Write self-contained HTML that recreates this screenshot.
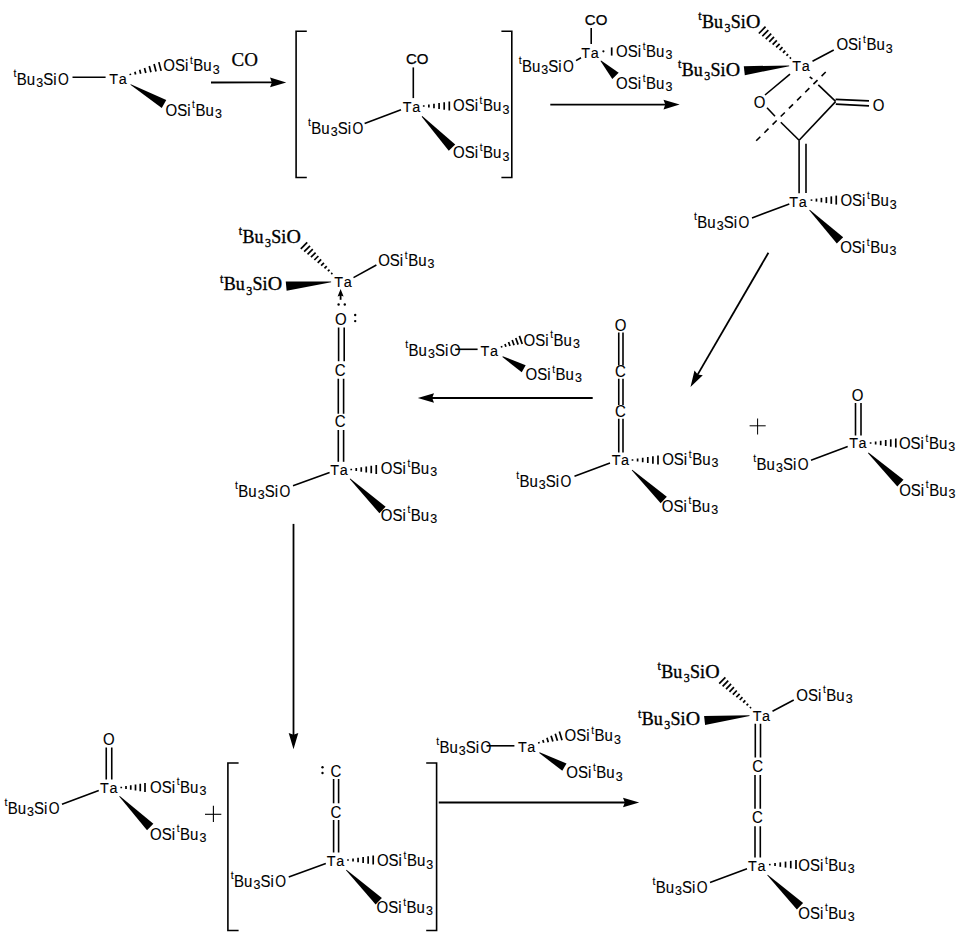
<!DOCTYPE html>
<html><head><meta charset="utf-8"><style>html,body{margin:0;padding:0;background:#fff;}svg{display:block}</style></head>
<body><svg width="960" height="935" viewBox="0 0 960 935">
<rect width="960" height="935" fill="#fff"/>
<g transform="translate(57.97,84.70) scale(1.0,1.04)"><text font-family="'Liberation Sans'" font-size="15" stroke="#000" stroke-width="0.1"><tspan x="-44.5" y="-7.7" font-size="10.5">t</tspan><tspan x="-41.2" y="0">Bu</tspan><tspan x="-21.8" y="2.0" font-size="12.5">3</tspan><tspan x="-14.8" y="0">Si</tspan><tspan x="0" y="0" textLength="10.8" lengthAdjust="spacingAndGlyphs">O</tspan></text></g>
<line x1="72.50" y1="77.25" x2="105.60" y2="77.25" stroke="#000" stroke-width="1.6"/>
<g transform="translate(109.26,84.15) scale(0.96,1.03)"><text font-family="'Liberation Sans'" font-size="15" stroke="#000" stroke-width="0.1"><tspan x="0" y="0">T</tspan><tspan x="9.8" y="0">a</tspan></text></g>
<line x1="130.49" y1="75.12" x2="130.11" y2="73.68" stroke="#000" stroke-width="1.7"/>
<line x1="135.60" y1="74.41" x2="134.90" y2="71.75" stroke="#000" stroke-width="1.7"/>
<line x1="140.71" y1="73.70" x2="139.69" y2="69.83" stroke="#000" stroke-width="1.7"/>
<line x1="145.82" y1="72.99" x2="144.48" y2="67.91" stroke="#000" stroke-width="1.7"/>
<line x1="150.94" y1="72.27" x2="149.26" y2="65.99" stroke="#000" stroke-width="1.7"/>
<line x1="156.05" y1="71.56" x2="154.05" y2="64.07" stroke="#000" stroke-width="1.7"/>
<line x1="161.16" y1="70.85" x2="158.84" y2="62.15" stroke="#000" stroke-width="1.7"/>
<g transform="translate(163.29,71.00) scale(1.0,1.04)"><text font-family="'Liberation Sans'" font-size="15" stroke="#000" stroke-width="0.1"><tspan x="0" y="0">OSi</tspan><tspan x="26.6" y="-7.0" font-size="10">t</tspan><tspan x="30.0" y="0">Bu</tspan><tspan x="49.4" y="2.4" font-size="12.5">3</tspan></text></g>
<polygon points="130.40,84.85 161.73,107.89 166.27,100.11 130.80,84.15" fill="#000"/>
<g transform="translate(165.49,115.60) scale(1.0,1.04)"><text font-family="'Liberation Sans'" font-size="15" stroke="#000" stroke-width="0.1"><tspan x="0" y="0">OSi</tspan><tspan x="26.6" y="-7.0" font-size="10">t</tspan><tspan x="30.0" y="0">Bu</tspan><tspan x="49.4" y="2.4" font-size="12.5">3</tspan></text></g>
<text x="231.60" y="66.00" font-family='"Liberation Serif"' font-size="19" stroke="#000" stroke-width="0.25">CO</text>
<line x1="211.00" y1="82.50" x2="272.35" y2="82.42" stroke="#000" stroke-width="1.8"/>
<polygon points="286.25,82.40 270.06,87.22 271.85,82.42 270.04,77.62" fill="#000"/>
<polyline points="306.80,31.20 296.10,31.20 296.10,177.50 306.80,177.50" fill="none" stroke="#000" stroke-width="1.6"/>
<polyline points="501.40,31.20 511.80,31.20 511.80,177.50 501.40,177.50" fill="none" stroke="#000" stroke-width="1.6"/>
<text x="406.04" y="63.75" font-family='"Liberation Sans"' font-size="15" stroke="#000" stroke-width="0.25">CO</text>
<line x1="413.30" y1="67.40" x2="413.30" y2="98.10" stroke="#000" stroke-width="1.6"/>
<g transform="translate(402.86,112.10) scale(0.96,1.03)"><text font-family="'Liberation Sans'" font-size="15" stroke="#000" stroke-width="0.1"><tspan x="0" y="0">T</tspan><tspan x="9.8" y="0">a</tspan></text></g>
<line x1="423.75" y1="106.75" x2="423.75" y2="105.25" stroke="#000" stroke-width="1.7"/>
<line x1="428.86" y1="107.50" x2="428.86" y2="104.50" stroke="#000" stroke-width="1.7"/>
<line x1="433.97" y1="108.25" x2="433.97" y2="103.75" stroke="#000" stroke-width="1.7"/>
<line x1="439.08" y1="109.00" x2="439.08" y2="103.00" stroke="#000" stroke-width="1.7"/>
<line x1="444.19" y1="109.75" x2="444.19" y2="102.25" stroke="#000" stroke-width="1.7"/>
<line x1="449.30" y1="110.50" x2="449.30" y2="101.50" stroke="#000" stroke-width="1.7"/>
<g transform="translate(452.99,111.30) scale(1.0,1.04)"><text font-family="'Liberation Sans'" font-size="15" stroke="#000" stroke-width="0.1"><tspan x="0" y="0">OSi</tspan><tspan x="26.6" y="-7.0" font-size="10">t</tspan><tspan x="30.0" y="0">Bu</tspan><tspan x="49.4" y="2.4" font-size="12.5">3</tspan></text></g>
<g transform="translate(352.47,133.60) scale(1.0,1.04)"><text font-family="'Liberation Sans'" font-size="15" stroke="#000" stroke-width="0.1"><tspan x="-44.5" y="-7.7" font-size="10.5">t</tspan><tspan x="-41.2" y="0">Bu</tspan><tspan x="-21.8" y="2.0" font-size="12.5">3</tspan><tspan x="-14.8" y="0">Si</tspan><tspan x="0" y="0" textLength="10.8" lengthAdjust="spacingAndGlyphs">O</tspan></text></g>
<line x1="364.60" y1="123.60" x2="401.00" y2="109.80" stroke="#000" stroke-width="1.6"/>
<polygon points="421.71,116.68 448.76,150.72 455.24,144.48 422.29,116.12" fill="#000"/>
<g transform="translate(453.09,158.00) scale(1.0,1.04)"><text font-family="'Liberation Sans'" font-size="15" stroke="#000" stroke-width="0.1"><tspan x="0" y="0">OSi</tspan><tspan x="26.6" y="-7.0" font-size="10">t</tspan><tspan x="30.0" y="0">Bu</tspan><tspan x="49.4" y="2.4" font-size="12.5">3</tspan></text></g>
<text x="584.84" y="25.30" font-family='"Liberation Sans"' font-size="15" stroke="#000" stroke-width="0.25">CO</text>
<line x1="591.20" y1="28.00" x2="591.20" y2="44.00" stroke="#000" stroke-width="1.6"/>
<g transform="translate(581.26,57.60) scale(0.96,1.03)"><text font-family="'Liberation Sans'" font-size="15" stroke="#000" stroke-width="0.1"><tspan x="0" y="0">T</tspan><tspan x="9.8" y="0">a</tspan></text></g>
<circle cx="603.4" cy="51.3" r="1.1"/>
<line x1="611.70" y1="47.40" x2="611.70" y2="55.60" stroke="#000" stroke-width="1.7"/>
<g transform="translate(616.09,56.90) scale(1.0,1.04)"><text font-family="'Liberation Sans'" font-size="15" stroke="#000" stroke-width="0.1"><tspan x="0" y="0">OSi</tspan><tspan x="26.6" y="-7.0" font-size="10">t</tspan><tspan x="30.0" y="0">Bu</tspan><tspan x="49.4" y="2.4" font-size="12.5">3</tspan></text></g>
<g transform="translate(563.12,71.65) scale(1.0,1.04)"><text font-family="'Liberation Sans'" font-size="15" stroke="#000" stroke-width="0.1"><tspan x="-44.5" y="-7.7" font-size="10.5">t</tspan><tspan x="-41.2" y="0">Bu</tspan><tspan x="-21.8" y="2.0" font-size="12.5">3</tspan><tspan x="-14.8" y="0">Si</tspan><tspan x="0" y="0" textLength="10.8" lengthAdjust="spacingAndGlyphs">O</tspan></text></g>
<line x1="576.00" y1="60.60" x2="581.00" y2="57.70" stroke="#000" stroke-width="1.6"/>
<polygon points="600.51,61.08 612.32,78.91 618.68,72.69 601.09,60.52" fill="#000"/>
<g transform="translate(616.09,88.85) scale(1.0,1.04)"><text font-family="'Liberation Sans'" font-size="15" stroke="#000" stroke-width="0.1"><tspan x="0" y="0">OSi</tspan><tspan x="26.6" y="-7.0" font-size="10">t</tspan><tspan x="30.0" y="0">Bu</tspan><tspan x="49.4" y="2.4" font-size="12.5">3</tspan></text></g>
<line x1="550.30" y1="104.60" x2="665.80" y2="104.60" stroke="#000" stroke-width="1.8"/>
<polygon points="679.70,104.60 663.50,109.40 665.30,104.60 663.50,99.80" fill="#000"/>
<g transform="translate(746.54,27.50) scale(1.0,1.0)"><text font-family="'Liberation Serif'" font-size="18" stroke="#000" stroke-width="0.35"><tspan x="-48.2" y="-7.4" font-size="12">t</tspan><tspan x="-44.6" y="0">Bu</tspan><tspan x="-22.1" y="4.4" font-size="12">3</tspan><tspan x="-15.7" y="0">Si</tspan><tspan x="-0.6" y="0" textLength="14.4" lengthAdjust="spacingAndGlyphs">O</tspan></text></g>
<line x1="790.93" y1="57.47" x2="789.87" y2="58.53" stroke="#000" stroke-width="1.7"/>
<line x1="788.11" y1="54.05" x2="786.43" y2="55.75" stroke="#000" stroke-width="1.7"/>
<line x1="785.29" y1="50.63" x2="782.98" y2="52.97" stroke="#000" stroke-width="1.7"/>
<line x1="782.47" y1="47.22" x2="779.53" y2="50.18" stroke="#000" stroke-width="1.7"/>
<line x1="779.64" y1="43.80" x2="776.09" y2="47.40" stroke="#000" stroke-width="1.7"/>
<line x1="776.82" y1="40.39" x2="772.64" y2="44.61" stroke="#000" stroke-width="1.7"/>
<line x1="774.00" y1="36.97" x2="769.20" y2="41.83" stroke="#000" stroke-width="1.7"/>
<line x1="771.18" y1="33.56" x2="765.75" y2="39.04" stroke="#000" stroke-width="1.7"/>
<line x1="768.36" y1="30.14" x2="762.31" y2="36.26" stroke="#000" stroke-width="1.7"/>
<line x1="765.54" y1="26.72" x2="758.86" y2="33.48" stroke="#000" stroke-width="1.7"/>
<g transform="translate(836.39,50.00) scale(1.0,1.04)"><text font-family="'Liberation Sans'" font-size="15" stroke="#000" stroke-width="0.1"><tspan x="0" y="0">OSi</tspan><tspan x="26.6" y="-7.0" font-size="10">t</tspan><tspan x="30.0" y="0">Bu</tspan><tspan x="49.4" y="2.4" font-size="12.5">3</tspan></text></g>
<line x1="812.50" y1="61.25" x2="833.75" y2="50.00" stroke="#000" stroke-width="1.6"/>
<g transform="translate(792.36,70.90) scale(0.96,1.03)"><text font-family="'Liberation Sans'" font-size="15" stroke="#000" stroke-width="0.1"><tspan x="0" y="0">T</tspan><tspan x="9.8" y="0">a</tspan></text></g>
<g transform="translate(726.24,75.60) scale(1.0,1.0)"><text font-family="'Liberation Serif'" font-size="18" stroke="#000" stroke-width="0.35"><tspan x="-48.2" y="-7.4" font-size="12">t</tspan><tspan x="-44.6" y="0">Bu</tspan><tspan x="-22.1" y="4.4" font-size="12">3</tspan><tspan x="-15.7" y="0">Si</tspan><tspan x="-0.6" y="0" textLength="14.4" lengthAdjust="spacingAndGlyphs">O</tspan></text></g>
<polygon points="789.16,65.40 743.80,66.23 744.80,75.27 789.24,66.20" fill="#000"/>
<g transform="translate(759.50,102.10) scale(1,1.08)"><text font-family="'Liberation Sans'" font-size="15" stroke="#000" stroke-width="0.12" text-anchor="middle" y="5.17">O</text></g>
<line x1="790.00" y1="74.20" x2="765.00" y2="95.00" stroke="#000" stroke-width="1.6"/>
<line x1="767.00" y1="107.80" x2="775.00" y2="116.20" stroke="#000" stroke-width="1.6"/>
<line x1="780.80" y1="122.30" x2="799.10" y2="140.30" stroke="#000" stroke-width="1.6"/>
<line x1="799.10" y1="140.30" x2="835.60" y2="101.60" stroke="#000" stroke-width="1.6"/>
<line x1="809.70" y1="76.80" x2="812.40" y2="78.90" stroke="#000" stroke-width="1.6"/>
<line x1="818.30" y1="84.80" x2="835.60" y2="101.40" stroke="#000" stroke-width="1.6"/>
<line x1="835.60" y1="99.40" x2="869.00" y2="100.90" stroke="#000" stroke-width="1.6"/>
<line x1="835.80" y1="104.10" x2="869.00" y2="105.90" stroke="#000" stroke-width="1.6"/>
<g transform="translate(878.50,105.80) scale(1,1.08)"><text font-family="'Liberation Sans'" font-size="15" stroke="#000" stroke-width="0.12" text-anchor="middle" y="5.17">O</text></g>
<line x1="799.10" y1="140.30" x2="799.10" y2="193.20" stroke="#000" stroke-width="1.6"/>
<line x1="806.00" y1="143.80" x2="806.00" y2="193.00" stroke="#000" stroke-width="1.6"/>
<line x1="825.7" y1="72" x2="756.1" y2="140.9" stroke="#000" stroke-width="1.6" stroke-dasharray="5.8,5.7"/>
<g transform="translate(789.26,206.80) scale(0.96,1.03)"><text font-family="'Liberation Sans'" font-size="15" stroke="#000" stroke-width="0.1"><tspan x="0" y="0">T</tspan><tspan x="9.8" y="0">a</tspan></text></g>
<line x1="811.50" y1="200.85" x2="811.50" y2="199.35" stroke="#000" stroke-width="1.7"/>
<line x1="816.45" y1="201.60" x2="816.45" y2="198.60" stroke="#000" stroke-width="1.7"/>
<line x1="821.40" y1="202.35" x2="821.40" y2="197.85" stroke="#000" stroke-width="1.7"/>
<line x1="826.35" y1="203.10" x2="826.35" y2="197.10" stroke="#000" stroke-width="1.7"/>
<line x1="831.30" y1="203.85" x2="831.30" y2="196.35" stroke="#000" stroke-width="1.7"/>
<line x1="836.25" y1="204.60" x2="836.25" y2="195.60" stroke="#000" stroke-width="1.7"/>
<g transform="translate(840.39,206.30) scale(1.0,1.04)"><text font-family="'Liberation Sans'" font-size="15" stroke="#000" stroke-width="0.1"><tspan x="0" y="0">OSi</tspan><tspan x="26.6" y="-7.0" font-size="10">t</tspan><tspan x="30.0" y="0">Bu</tspan><tspan x="49.4" y="2.4" font-size="12.5">3</tspan></text></g>
<g transform="translate(738.57,228.20) scale(1.0,1.04)"><text font-family="'Liberation Sans'" font-size="15" stroke="#000" stroke-width="0.1"><tspan x="-44.5" y="-7.7" font-size="10.5">t</tspan><tspan x="-41.2" y="0">Bu</tspan><tspan x="-21.8" y="2.0" font-size="12.5">3</tspan><tspan x="-14.8" y="0">Si</tspan><tspan x="0" y="0" textLength="10.8" lengthAdjust="spacingAndGlyphs">O</tspan></text></g>
<line x1="752.00" y1="217.90" x2="789.30" y2="203.90" stroke="#000" stroke-width="1.6"/>
<polygon points="809.22,210.28 836.82,243.59 843.18,237.21 809.78,209.72" fill="#000"/>
<g transform="translate(840.19,252.80) scale(1.0,1.04)"><text font-family="'Liberation Sans'" font-size="15" stroke="#000" stroke-width="0.1"><tspan x="0" y="0">OSi</tspan><tspan x="26.6" y="-7.0" font-size="10">t</tspan><tspan x="30.0" y="0">Bu</tspan><tspan x="49.4" y="2.4" font-size="12.5">3</tspan></text></g>
<line x1="768.40" y1="252.80" x2="697.48" y2="374.88" stroke="#000" stroke-width="1.8"/>
<polygon points="690.50,386.90 694.49,370.48 697.73,374.45 702.79,375.30" fill="#000"/>
<g transform="translate(620.62,325.50) scale(1,1.08)"><text font-family="'Liberation Sans'" font-size="15" stroke="#000" stroke-width="0.12" text-anchor="middle" y="5.17">O</text></g>
<line x1="618.75" y1="332.50" x2="618.75" y2="365.50" stroke="#000" stroke-width="1.6"/>
<line x1="623.00" y1="332.50" x2="623.00" y2="365.50" stroke="#000" stroke-width="1.6"/>
<g transform="translate(620.50,371.25) scale(1,1.08)"><text font-family="'Liberation Sans'" font-size="15" stroke="#000" stroke-width="0.12" text-anchor="middle" y="5.17">C</text></g>
<line x1="618.75" y1="378.75" x2="618.75" y2="405.00" stroke="#000" stroke-width="1.6"/>
<line x1="623.00" y1="378.75" x2="623.00" y2="405.00" stroke="#000" stroke-width="1.6"/>
<g transform="translate(620.50,411.25) scale(1,1.08)"><text font-family="'Liberation Sans'" font-size="15" stroke="#000" stroke-width="0.12" text-anchor="middle" y="5.17">C</text></g>
<line x1="618.75" y1="418.75" x2="618.75" y2="452.50" stroke="#000" stroke-width="1.6"/>
<line x1="623.00" y1="418.75" x2="623.00" y2="452.50" stroke="#000" stroke-width="1.6"/>
<g transform="translate(611.66,465.30) scale(0.96,1.03)"><text font-family="'Liberation Sans'" font-size="15" stroke="#000" stroke-width="0.1"><tspan x="0" y="0">T</tspan><tspan x="9.8" y="0">a</tspan></text></g>
<line x1="632.50" y1="460.75" x2="632.50" y2="459.25" stroke="#000" stroke-width="1.7"/>
<line x1="637.60" y1="461.50" x2="637.60" y2="458.50" stroke="#000" stroke-width="1.7"/>
<line x1="642.70" y1="462.25" x2="642.70" y2="457.75" stroke="#000" stroke-width="1.7"/>
<line x1="647.80" y1="463.00" x2="647.80" y2="457.00" stroke="#000" stroke-width="1.7"/>
<line x1="652.90" y1="463.75" x2="652.90" y2="456.25" stroke="#000" stroke-width="1.7"/>
<line x1="658.00" y1="464.50" x2="658.00" y2="455.50" stroke="#000" stroke-width="1.7"/>
<g transform="translate(662.19,464.90) scale(1.0,1.04)"><text font-family="'Liberation Sans'" font-size="15" stroke="#000" stroke-width="0.1"><tspan x="0" y="0">OSi</tspan><tspan x="26.6" y="-7.0" font-size="10">t</tspan><tspan x="30.0" y="0">Bu</tspan><tspan x="49.4" y="2.4" font-size="12.5">3</tspan></text></g>
<g transform="translate(560.62,486.65) scale(1.0,1.04)"><text font-family="'Liberation Sans'" font-size="15" stroke="#000" stroke-width="0.1"><tspan x="-44.5" y="-7.7" font-size="10.5">t</tspan><tspan x="-41.2" y="0">Bu</tspan><tspan x="-21.8" y="2.0" font-size="12.5">3</tspan><tspan x="-14.8" y="0">Si</tspan><tspan x="0" y="0" textLength="10.8" lengthAdjust="spacingAndGlyphs">O</tspan></text></g>
<line x1="574.50" y1="476.25" x2="610.00" y2="463.00" stroke="#000" stroke-width="1.6"/>
<polygon points="631.73,470.29 660.66,503.27 666.84,496.73 632.27,469.71" fill="#000"/>
<g transform="translate(661.79,511.70) scale(1.0,1.04)"><text font-family="'Liberation Sans'" font-size="15" stroke="#000" stroke-width="0.1"><tspan x="0" y="0">OSi</tspan><tspan x="26.6" y="-7.0" font-size="10">t</tspan><tspan x="30.0" y="0">Bu</tspan><tspan x="49.4" y="2.4" font-size="12.5">3</tspan></text></g>
<line x1="749.60" y1="425.80" x2="765.70" y2="425.80" stroke="#000" stroke-width="1.0"/>
<line x1="757.60" y1="418.50" x2="757.60" y2="434.50" stroke="#000" stroke-width="1.0"/>
<g transform="translate(857.65,395.80) scale(1,1.08)"><text font-family="'Liberation Sans'" font-size="15" stroke="#000" stroke-width="0.12" text-anchor="middle" y="5.17">O</text></g>
<line x1="855.50" y1="403.00" x2="855.50" y2="435.50" stroke="#000" stroke-width="1.6"/>
<line x1="861.00" y1="403.00" x2="861.00" y2="435.50" stroke="#000" stroke-width="1.6"/>
<g transform="translate(849.16,448.10) scale(0.96,1.03)"><text font-family="'Liberation Sans'" font-size="15" stroke="#000" stroke-width="0.1"><tspan x="0" y="0">T</tspan><tspan x="9.8" y="0">a</tspan></text></g>
<line x1="870.60" y1="443.75" x2="870.60" y2="442.25" stroke="#000" stroke-width="1.7"/>
<line x1="875.64" y1="444.50" x2="875.64" y2="441.50" stroke="#000" stroke-width="1.7"/>
<line x1="880.68" y1="445.25" x2="880.68" y2="440.75" stroke="#000" stroke-width="1.7"/>
<line x1="885.72" y1="446.00" x2="885.72" y2="440.00" stroke="#000" stroke-width="1.7"/>
<line x1="890.76" y1="446.75" x2="890.76" y2="439.25" stroke="#000" stroke-width="1.7"/>
<line x1="895.80" y1="447.50" x2="895.80" y2="438.50" stroke="#000" stroke-width="1.7"/>
<g transform="translate(898.89,448.90) scale(1.0,1.04)"><text font-family="'Liberation Sans'" font-size="15" stroke="#000" stroke-width="0.1"><tspan x="0" y="0">OSi</tspan><tspan x="26.6" y="-7.0" font-size="10">t</tspan><tspan x="30.0" y="0">Bu</tspan><tspan x="49.4" y="2.4" font-size="12.5">3</tspan></text></g>
<g transform="translate(797.67,469.80) scale(1.0,1.04)"><text font-family="'Liberation Sans'" font-size="15" stroke="#000" stroke-width="0.1"><tspan x="-44.5" y="-7.7" font-size="10.5">t</tspan><tspan x="-41.2" y="0">Bu</tspan><tspan x="-21.8" y="2.0" font-size="12.5">3</tspan><tspan x="-14.8" y="0">Si</tspan><tspan x="0" y="0" textLength="10.8" lengthAdjust="spacingAndGlyphs">O</tspan></text></g>
<line x1="811.00" y1="460.20" x2="847.70" y2="446.50" stroke="#000" stroke-width="1.6"/>
<polygon points="868.03,453.19 897.32,486.38 903.48,479.82 868.57,452.61" fill="#000"/>
<g transform="translate(899.19,495.50) scale(1.0,1.04)"><text font-family="'Liberation Sans'" font-size="15" stroke="#000" stroke-width="0.1"><tspan x="0" y="0">OSi</tspan><tspan x="26.6" y="-7.0" font-size="10">t</tspan><tspan x="30.0" y="0">Bu</tspan><tspan x="49.4" y="2.4" font-size="12.5">3</tspan></text></g>
<g transform="translate(449.77,356.20) scale(1.0,1.04)"><text font-family="'Liberation Sans'" font-size="15" stroke="#000" stroke-width="0.1"><tspan x="-44.5" y="-7.7" font-size="10.5">t</tspan><tspan x="-41.2" y="0">Bu</tspan><tspan x="-21.8" y="2.0" font-size="12.5">3</tspan><tspan x="-14.8" y="0">Si</tspan><tspan x="0" y="0" textLength="10.8" lengthAdjust="spacingAndGlyphs">O</tspan></text></g>
<line x1="455.20" y1="349.30" x2="477.60" y2="349.30" stroke="#000" stroke-width="1.6"/>
<g transform="translate(480.56,356.30) scale(0.96,1.03)"><text font-family="'Liberation Sans'" font-size="15" stroke="#000" stroke-width="0.1"><tspan x="0" y="0">T</tspan><tspan x="9.8" y="0">a</tspan></text></g>
<line x1="501.85" y1="347.41" x2="501.35" y2="345.99" stroke="#000" stroke-width="1.7"/>
<line x1="505.92" y1="346.71" x2="504.96" y2="343.97" stroke="#000" stroke-width="1.7"/>
<line x1="510.00" y1="346.01" x2="508.56" y2="341.95" stroke="#000" stroke-width="1.7"/>
<line x1="514.07" y1="345.31" x2="512.17" y2="339.93" stroke="#000" stroke-width="1.7"/>
<line x1="518.15" y1="344.61" x2="515.77" y2="337.91" stroke="#000" stroke-width="1.7"/>
<line x1="522.22" y1="343.91" x2="519.38" y2="335.89" stroke="#000" stroke-width="1.7"/>
<g transform="translate(523.59,345.70) scale(1.0,1.04)"><text font-family="'Liberation Sans'" font-size="15" stroke="#000" stroke-width="0.1"><tspan x="0" y="0">OSi</tspan><tspan x="26.6" y="-7.0" font-size="10">t</tspan><tspan x="30.0" y="0">Bu</tspan><tspan x="49.4" y="2.4" font-size="12.5">3</tspan></text></g>
<polygon points="502.40,356.95 521.70,372.26 525.70,365.34 502.80,356.25" fill="#000"/>
<g transform="translate(525.59,379.90) scale(1.0,1.04)"><text font-family="'Liberation Sans'" font-size="15" stroke="#000" stroke-width="0.1"><tspan x="0" y="0">OSi</tspan><tspan x="26.6" y="-7.0" font-size="10">t</tspan><tspan x="30.0" y="0">Bu</tspan><tspan x="49.4" y="2.4" font-size="12.5">3</tspan></text></g>
<line x1="592.70" y1="398.00" x2="431.70" y2="398.00" stroke="#000" stroke-width="1.8"/>
<polygon points="417.80,398.00 434.00,393.20 432.20,398.00 434.00,402.80" fill="#000"/>
<g transform="translate(287.04,242.50) scale(1.0,1.0)"><text font-family="'Liberation Serif'" font-size="18" stroke="#000" stroke-width="0.35"><tspan x="-48.2" y="-7.4" font-size="12">t</tspan><tspan x="-44.6" y="0">Bu</tspan><tspan x="-22.1" y="4.4" font-size="12">3</tspan><tspan x="-15.7" y="0">Si</tspan><tspan x="-0.6" y="0" textLength="14.4" lengthAdjust="spacingAndGlyphs">O</tspan></text></g>
<line x1="332.33" y1="272.97" x2="331.27" y2="274.03" stroke="#000" stroke-width="1.7"/>
<line x1="329.54" y1="269.57" x2="327.88" y2="271.23" stroke="#000" stroke-width="1.7"/>
<line x1="326.75" y1="266.17" x2="324.49" y2="268.43" stroke="#000" stroke-width="1.7"/>
<line x1="323.96" y1="262.78" x2="321.10" y2="265.62" stroke="#000" stroke-width="1.7"/>
<line x1="321.17" y1="259.38" x2="317.72" y2="262.82" stroke="#000" stroke-width="1.7"/>
<line x1="318.38" y1="255.98" x2="314.33" y2="260.02" stroke="#000" stroke-width="1.7"/>
<line x1="315.59" y1="252.58" x2="310.94" y2="257.22" stroke="#000" stroke-width="1.7"/>
<line x1="312.80" y1="249.18" x2="307.55" y2="254.42" stroke="#000" stroke-width="1.7"/>
<line x1="310.01" y1="245.79" x2="304.16" y2="251.61" stroke="#000" stroke-width="1.7"/>
<line x1="307.22" y1="242.39" x2="300.78" y2="248.81" stroke="#000" stroke-width="1.7"/>
<g transform="translate(268.24,290.20) scale(1.0,1.0)"><text font-family="'Liberation Serif'" font-size="18" stroke="#000" stroke-width="0.35"><tspan x="-48.2" y="-7.4" font-size="12">t</tspan><tspan x="-44.6" y="0">Bu</tspan><tspan x="-22.1" y="4.4" font-size="12">3</tspan><tspan x="-15.7" y="0">Si</tspan><tspan x="-0.6" y="0" textLength="14.4" lengthAdjust="spacingAndGlyphs">O</tspan></text></g>
<polygon points="331.06,281.40 285.76,281.47 286.64,290.73 331.14,282.20" fill="#000"/>
<g transform="translate(334.26,286.70) scale(0.96,1.03)"><text font-family="'Liberation Sans'" font-size="15" stroke="#000" stroke-width="0.1"><tspan x="0" y="0">T</tspan><tspan x="9.8" y="0">a</tspan></text></g>
<line x1="353.50" y1="277.60" x2="376.40" y2="265.00" stroke="#000" stroke-width="1.6"/>
<g transform="translate(378.19,265.90) scale(1.0,1.04)"><text font-family="'Liberation Sans'" font-size="15" stroke="#000" stroke-width="0.1"><tspan x="0" y="0">OSi</tspan><tspan x="26.6" y="-7.0" font-size="10">t</tspan><tspan x="30.0" y="0">Bu</tspan><tspan x="49.4" y="2.4" font-size="12.5">3</tspan></text></g>
<line x1="340.60" y1="299.80" x2="340.60" y2="295.00" stroke="#000" stroke-width="1.8"/>
<polygon points="340.60,289.00 343.60,296.50 340.60,295.50 337.60,296.50" fill="#000"/>
<circle cx="338.6" cy="304.5" r="1.2"/><circle cx="344.8" cy="304.5" r="1.2"/>
<g transform="translate(340.90,319.45) scale(1,1.08)"><text font-family="'Liberation Sans'" font-size="15" stroke="#000" stroke-width="0.12" text-anchor="middle" y="5.17">O</text></g>
<circle cx="355.2" cy="315" r="1.2"/><circle cx="355.2" cy="321.1" r="1.2"/>
<line x1="338.60" y1="327.50" x2="338.60" y2="361.25" stroke="#000" stroke-width="1.6"/>
<line x1="344.20" y1="327.50" x2="344.20" y2="361.25" stroke="#000" stroke-width="1.6"/>
<g transform="translate(340.25,370.50) scale(1,1.08)"><text font-family="'Liberation Sans'" font-size="15" stroke="#000" stroke-width="0.12" text-anchor="middle" y="5.17">C</text></g>
<line x1="338.30" y1="378.75" x2="338.30" y2="413.75" stroke="#000" stroke-width="1.6"/>
<line x1="343.60" y1="378.75" x2="343.60" y2="413.75" stroke="#000" stroke-width="1.6"/>
<g transform="translate(340.25,421.25) scale(1,1.08)"><text font-family="'Liberation Sans'" font-size="15" stroke="#000" stroke-width="0.12" text-anchor="middle" y="5.17">C</text></g>
<line x1="338.30" y1="430.00" x2="338.30" y2="461.80" stroke="#000" stroke-width="1.6"/>
<line x1="343.60" y1="430.00" x2="343.60" y2="461.80" stroke="#000" stroke-width="1.6"/>
<g transform="translate(330.36,475.30) scale(0.96,1.03)"><text font-family="'Liberation Sans'" font-size="15" stroke="#000" stroke-width="0.1"><tspan x="0" y="0">T</tspan><tspan x="9.8" y="0">a</tspan></text></g>
<line x1="351.25" y1="470.25" x2="351.25" y2="468.75" stroke="#000" stroke-width="1.7"/>
<line x1="356.25" y1="471.00" x2="356.25" y2="468.00" stroke="#000" stroke-width="1.7"/>
<line x1="361.25" y1="471.75" x2="361.25" y2="467.25" stroke="#000" stroke-width="1.7"/>
<line x1="366.25" y1="472.50" x2="366.25" y2="466.50" stroke="#000" stroke-width="1.7"/>
<line x1="371.25" y1="473.25" x2="371.25" y2="465.75" stroke="#000" stroke-width="1.7"/>
<line x1="376.25" y1="474.00" x2="376.25" y2="465.00" stroke="#000" stroke-width="1.7"/>
<g transform="translate(380.79,473.80) scale(1.0,1.04)"><text font-family="'Liberation Sans'" font-size="15" stroke="#000" stroke-width="0.1"><tspan x="0" y="0">OSi</tspan><tspan x="26.6" y="-7.0" font-size="10">t</tspan><tspan x="30.0" y="0">Bu</tspan><tspan x="49.4" y="2.4" font-size="12.5">3</tspan></text></g>
<g transform="translate(279.57,496.70) scale(1.0,1.04)"><text font-family="'Liberation Sans'" font-size="15" stroke="#000" stroke-width="0.1"><tspan x="-44.5" y="-7.7" font-size="10.5">t</tspan><tspan x="-41.2" y="0">Bu</tspan><tspan x="-21.8" y="2.0" font-size="12.5">3</tspan><tspan x="-14.8" y="0">Si</tspan><tspan x="0" y="0" textLength="10.8" lengthAdjust="spacingAndGlyphs">O</tspan></text></g>
<line x1="293.00" y1="485.75" x2="329.60" y2="472.50" stroke="#000" stroke-width="1.6"/>
<polygon points="349.72,479.04 379.38,513.24 385.62,506.76 350.28,478.46" fill="#000"/>
<g transform="translate(380.79,520.70) scale(1.0,1.04)"><text font-family="'Liberation Sans'" font-size="15" stroke="#000" stroke-width="0.1"><tspan x="0" y="0">OSi</tspan><tspan x="26.6" y="-7.0" font-size="10">t</tspan><tspan x="30.0" y="0">Bu</tspan><tspan x="49.4" y="2.4" font-size="12.5">3</tspan></text></g>
<line x1="293.50" y1="523.90" x2="293.50" y2="735.30" stroke="#000" stroke-width="1.8"/>
<polygon points="293.50,749.20 288.70,733.00 293.50,734.80 298.30,733.00" fill="#000"/>
<g transform="translate(108.75,739.50) scale(1,1.08)"><text font-family="'Liberation Sans'" font-size="15" stroke="#000" stroke-width="0.12" text-anchor="middle" y="5.17">O</text></g>
<line x1="106.25" y1="747.50" x2="106.25" y2="779.50" stroke="#000" stroke-width="1.6"/>
<line x1="111.75" y1="747.50" x2="111.75" y2="779.50" stroke="#000" stroke-width="1.6"/>
<g transform="translate(100.06,793.40) scale(0.96,1.03)"><text font-family="'Liberation Sans'" font-size="15" stroke="#000" stroke-width="0.1"><tspan x="0" y="0">T</tspan><tspan x="9.8" y="0">a</tspan></text></g>
<line x1="121.25" y1="788.25" x2="121.25" y2="786.75" stroke="#000" stroke-width="1.7"/>
<line x1="126.00" y1="789.00" x2="126.00" y2="786.00" stroke="#000" stroke-width="1.7"/>
<line x1="130.75" y1="789.75" x2="130.75" y2="785.25" stroke="#000" stroke-width="1.7"/>
<line x1="135.50" y1="790.50" x2="135.50" y2="784.50" stroke="#000" stroke-width="1.7"/>
<line x1="140.25" y1="791.25" x2="140.25" y2="783.75" stroke="#000" stroke-width="1.7"/>
<line x1="145.00" y1="792.00" x2="145.00" y2="783.00" stroke="#000" stroke-width="1.7"/>
<g transform="translate(150.09,792.70) scale(1.0,1.04)"><text font-family="'Liberation Sans'" font-size="15" stroke="#000" stroke-width="0.1"><tspan x="0" y="0">OSi</tspan><tspan x="26.6" y="-7.0" font-size="10">t</tspan><tspan x="30.0" y="0">Bu</tspan><tspan x="49.4" y="2.4" font-size="12.5">3</tspan></text></g>
<g transform="translate(48.87,814.15) scale(1.0,1.04)"><text font-family="'Liberation Sans'" font-size="15" stroke="#000" stroke-width="0.1"><tspan x="-44.5" y="-7.7" font-size="10.5">t</tspan><tspan x="-41.2" y="0">Bu</tspan><tspan x="-21.8" y="2.0" font-size="12.5">3</tspan><tspan x="-14.8" y="0">Si</tspan><tspan x="0" y="0" textLength="10.8" lengthAdjust="spacingAndGlyphs">O</tspan></text></g>
<line x1="62.00" y1="804.30" x2="98.75" y2="790.40" stroke="#000" stroke-width="1.6"/>
<polygon points="119.22,796.53 147.02,830.18 153.38,823.82 119.78,795.97" fill="#000"/>
<g transform="translate(150.09,839.60) scale(1.0,1.04)"><text font-family="'Liberation Sans'" font-size="15" stroke="#000" stroke-width="0.1"><tspan x="0" y="0">OSi</tspan><tspan x="26.6" y="-7.0" font-size="10">t</tspan><tspan x="30.0" y="0">Bu</tspan><tspan x="49.4" y="2.4" font-size="12.5">3</tspan></text></g>
<line x1="205.00" y1="814.30" x2="221.30" y2="814.30" stroke="#000" stroke-width="1.1"/>
<line x1="213.40" y1="805.70" x2="213.40" y2="822.00" stroke="#000" stroke-width="1.1"/>
<polyline points="238.60,763.00 227.90,763.00 227.90,930.50 238.60,930.50" fill="none" stroke="#000" stroke-width="1.6"/>
<polyline points="426.20,763.00 436.60,763.00 436.60,930.50 426.20,930.50" fill="none" stroke="#000" stroke-width="1.6"/>
<circle cx="322.5" cy="767.2" r="1.2"/><circle cx="322.5" cy="773" r="1.2"/>
<g transform="translate(335.88,771.25) scale(1,1.08)"><text font-family="'Liberation Sans'" font-size="15" stroke="#000" stroke-width="0.12" text-anchor="middle" y="5.17">C</text></g>
<line x1="333.60" y1="779.00" x2="333.60" y2="803.30" stroke="#000" stroke-width="1.6"/>
<line x1="338.60" y1="779.00" x2="338.60" y2="803.30" stroke="#000" stroke-width="1.6"/>
<g transform="translate(335.88,812.50) scale(1,1.08)"><text font-family="'Liberation Sans'" font-size="15" stroke="#000" stroke-width="0.12" text-anchor="middle" y="5.17">C</text></g>
<line x1="333.60" y1="820.00" x2="333.60" y2="852.50" stroke="#000" stroke-width="1.6"/>
<line x1="338.60" y1="820.00" x2="338.60" y2="852.50" stroke="#000" stroke-width="1.6"/>
<g transform="translate(326.76,866.10) scale(0.96,1.03)"><text font-family="'Liberation Sans'" font-size="15" stroke="#000" stroke-width="0.1"><tspan x="0" y="0">T</tspan><tspan x="9.8" y="0">a</tspan></text></g>
<line x1="348.00" y1="860.75" x2="348.00" y2="859.25" stroke="#000" stroke-width="1.7"/>
<line x1="353.04" y1="861.50" x2="353.04" y2="858.50" stroke="#000" stroke-width="1.7"/>
<line x1="358.08" y1="862.25" x2="358.08" y2="857.75" stroke="#000" stroke-width="1.7"/>
<line x1="363.12" y1="863.00" x2="363.12" y2="857.00" stroke="#000" stroke-width="1.7"/>
<line x1="368.16" y1="863.75" x2="368.16" y2="856.25" stroke="#000" stroke-width="1.7"/>
<line x1="373.20" y1="864.50" x2="373.20" y2="855.50" stroke="#000" stroke-width="1.7"/>
<g transform="translate(376.89,866.40) scale(1.0,1.04)"><text font-family="'Liberation Sans'" font-size="15" stroke="#000" stroke-width="0.1"><tspan x="0" y="0">OSi</tspan><tspan x="26.6" y="-7.0" font-size="10">t</tspan><tspan x="30.0" y="0">Bu</tspan><tspan x="49.4" y="2.4" font-size="12.5">3</tspan></text></g>
<g transform="translate(275.27,886.65) scale(1.0,1.04)"><text font-family="'Liberation Sans'" font-size="15" stroke="#000" stroke-width="0.1"><tspan x="-44.5" y="-7.7" font-size="10.5">t</tspan><tspan x="-41.2" y="0">Bu</tspan><tspan x="-21.8" y="2.0" font-size="12.5">3</tspan><tspan x="-14.8" y="0">Si</tspan><tspan x="0" y="0" textLength="10.8" lengthAdjust="spacingAndGlyphs">O</tspan></text></g>
<line x1="288.75" y1="877.00" x2="325.80" y2="863.40" stroke="#000" stroke-width="1.6"/>
<polygon points="345.97,870.29 375.63,904.49 381.87,898.01 346.53,869.71" fill="#000"/>
<g transform="translate(376.59,912.90) scale(1.0,1.04)"><text font-family="'Liberation Sans'" font-size="15" stroke="#000" stroke-width="0.1"><tspan x="0" y="0">OSi</tspan><tspan x="26.6" y="-7.0" font-size="10">t</tspan><tspan x="30.0" y="0">Bu</tspan><tspan x="49.4" y="2.4" font-size="12.5">3</tspan></text></g>
<g transform="translate(480.62,752.90) scale(1.0,1.04)"><text font-family="'Liberation Sans'" font-size="15" stroke="#000" stroke-width="0.1"><tspan x="-44.5" y="-7.7" font-size="10.5">t</tspan><tspan x="-41.2" y="0">Bu</tspan><tspan x="-21.8" y="2.0" font-size="12.5">3</tspan><tspan x="-14.8" y="0">Si</tspan><tspan x="0" y="0" textLength="10.8" lengthAdjust="spacingAndGlyphs">O</tspan></text></g>
<line x1="486.50" y1="745.80" x2="514.40" y2="745.80" stroke="#000" stroke-width="1.6"/>
<g transform="translate(517.96,752.40) scale(0.96,1.03)"><text font-family="'Liberation Sans'" font-size="15" stroke="#000" stroke-width="0.1"><tspan x="0" y="0">T</tspan><tspan x="9.8" y="0">a</tspan></text></g>
<line x1="539.12" y1="743.42" x2="538.68" y2="741.98" stroke="#000" stroke-width="1.7"/>
<line x1="543.71" y1="742.77" x2="542.81" y2="739.91" stroke="#000" stroke-width="1.7"/>
<line x1="548.29" y1="742.13" x2="546.95" y2="737.83" stroke="#000" stroke-width="1.7"/>
<line x1="552.87" y1="741.48" x2="551.09" y2="735.76" stroke="#000" stroke-width="1.7"/>
<line x1="557.46" y1="740.84" x2="555.22" y2="733.68" stroke="#000" stroke-width="1.7"/>
<line x1="562.04" y1="740.20" x2="559.36" y2="731.60" stroke="#000" stroke-width="1.7"/>
<g transform="translate(564.59,741.00) scale(1.0,1.04)"><text font-family="'Liberation Sans'" font-size="15" stroke="#000" stroke-width="0.1"><tspan x="0" y="0">OSi</tspan><tspan x="26.6" y="-7.0" font-size="10">t</tspan><tspan x="30.0" y="0">Bu</tspan><tspan x="49.4" y="2.4" font-size="12.5">3</tspan></text></g>
<polygon points="539.20,752.95 562.28,770.83 566.52,763.57 539.60,752.25" fill="#000"/>
<g transform="translate(566.29,778.40) scale(1.0,1.04)"><text font-family="'Liberation Sans'" font-size="15" stroke="#000" stroke-width="0.1"><tspan x="0" y="0">OSi</tspan><tspan x="26.6" y="-7.0" font-size="10">t</tspan><tspan x="30.0" y="0">Bu</tspan><tspan x="49.4" y="2.4" font-size="12.5">3</tspan></text></g>
<line x1="438.75" y1="802.50" x2="625.30" y2="802.50" stroke="#000" stroke-width="1.8"/>
<polygon points="639.20,802.50 623.00,807.30 624.80,802.50 623.00,797.70" fill="#000"/>
<g transform="translate(705.74,677.50) scale(1.0,1.0)"><text font-family="'Liberation Serif'" font-size="18" stroke="#000" stroke-width="0.35"><tspan x="-48.2" y="-7.4" font-size="12">t</tspan><tspan x="-44.6" y="0">Bu</tspan><tspan x="-22.1" y="4.4" font-size="12">3</tspan><tspan x="-15.7" y="0">Si</tspan><tspan x="-0.6" y="0" textLength="14.4" lengthAdjust="spacingAndGlyphs">O</tspan></text></g>
<line x1="751.02" y1="707.06" x2="749.98" y2="708.14" stroke="#000" stroke-width="1.7"/>
<line x1="748.17" y1="703.75" x2="746.56" y2="705.43" stroke="#000" stroke-width="1.7"/>
<line x1="745.32" y1="700.44" x2="743.14" y2="702.71" stroke="#000" stroke-width="1.7"/>
<line x1="742.47" y1="697.14" x2="739.73" y2="700.00" stroke="#000" stroke-width="1.7"/>
<line x1="739.63" y1="693.83" x2="736.31" y2="697.28" stroke="#000" stroke-width="1.7"/>
<line x1="736.78" y1="690.52" x2="732.89" y2="694.57" stroke="#000" stroke-width="1.7"/>
<line x1="733.93" y1="687.21" x2="729.47" y2="691.85" stroke="#000" stroke-width="1.7"/>
<line x1="731.08" y1="683.91" x2="726.05" y2="689.14" stroke="#000" stroke-width="1.7"/>
<line x1="728.23" y1="680.60" x2="722.63" y2="686.42" stroke="#000" stroke-width="1.7"/>
<line x1="725.38" y1="677.29" x2="719.22" y2="683.71" stroke="#000" stroke-width="1.7"/>
<g transform="translate(796.34,700.70) scale(1.0,1.04)"><text font-family="'Liberation Sans'" font-size="15" stroke="#000" stroke-width="0.1"><tspan x="0" y="0">OSi</tspan><tspan x="26.6" y="-7.0" font-size="10">t</tspan><tspan x="30.0" y="0">Bu</tspan><tspan x="49.4" y="2.4" font-size="12.5">3</tspan></text></g>
<line x1="772.50" y1="711.25" x2="793.75" y2="700.00" stroke="#000" stroke-width="1.6"/>
<g transform="translate(752.66,720.90) scale(0.96,1.03)"><text font-family="'Liberation Sans'" font-size="15" stroke="#000" stroke-width="0.1"><tspan x="0" y="0">T</tspan><tspan x="9.8" y="0">a</tspan></text></g>
<g transform="translate(686.24,725.00) scale(1.0,1.0)"><text font-family="'Liberation Serif'" font-size="18" stroke="#000" stroke-width="0.35"><tspan x="-48.2" y="-7.4" font-size="12">t</tspan><tspan x="-44.6" y="0">Bu</tspan><tspan x="-22.1" y="4.4" font-size="12">3</tspan><tspan x="-15.7" y="0">Si</tspan><tspan x="-0.6" y="0" textLength="14.4" lengthAdjust="spacingAndGlyphs">O</tspan></text></g>
<polygon points="749.46,715.20 704.11,716.03 705.09,724.97 749.54,716.00" fill="#000"/>
<line x1="755.30" y1="723.75" x2="755.30" y2="757.50" stroke="#000" stroke-width="1.6"/>
<line x1="760.50" y1="723.75" x2="760.50" y2="757.50" stroke="#000" stroke-width="1.6"/>
<g transform="translate(757.75,766.25) scale(1,1.08)"><text font-family="'Liberation Sans'" font-size="15" stroke="#000" stroke-width="0.12" text-anchor="middle" y="5.17">C</text></g>
<line x1="755.00" y1="775.00" x2="755.00" y2="808.75" stroke="#000" stroke-width="1.6"/>
<line x1="760.30" y1="775.00" x2="760.30" y2="808.75" stroke="#000" stroke-width="1.6"/>
<g transform="translate(757.50,817.50) scale(1,1.08)"><text font-family="'Liberation Sans'" font-size="15" stroke="#000" stroke-width="0.12" text-anchor="middle" y="5.17">C</text></g>
<line x1="755.00" y1="826.25" x2="755.00" y2="857.50" stroke="#000" stroke-width="1.6"/>
<line x1="760.30" y1="826.25" x2="760.30" y2="857.50" stroke="#000" stroke-width="1.6"/>
<g transform="translate(748.01,871.00) scale(0.96,1.03)"><text font-family="'Liberation Sans'" font-size="15" stroke="#000" stroke-width="0.1"><tspan x="0" y="0">T</tspan><tspan x="9.8" y="0">a</tspan></text></g>
<line x1="769.80" y1="865.35" x2="769.80" y2="863.85" stroke="#000" stroke-width="1.7"/>
<line x1="775.04" y1="866.10" x2="775.04" y2="863.10" stroke="#000" stroke-width="1.7"/>
<line x1="780.28" y1="866.85" x2="780.28" y2="862.35" stroke="#000" stroke-width="1.7"/>
<line x1="785.52" y1="867.60" x2="785.52" y2="861.60" stroke="#000" stroke-width="1.7"/>
<line x1="790.76" y1="868.35" x2="790.76" y2="860.85" stroke="#000" stroke-width="1.7"/>
<line x1="796.00" y1="869.10" x2="796.00" y2="860.10" stroke="#000" stroke-width="1.7"/>
<g transform="translate(798.29,870.90) scale(1.0,1.04)"><text font-family="'Liberation Sans'" font-size="15" stroke="#000" stroke-width="0.1"><tspan x="0" y="0">OSi</tspan><tspan x="26.6" y="-7.0" font-size="10">t</tspan><tspan x="30.0" y="0">Bu</tspan><tspan x="49.4" y="2.4" font-size="12.5">3</tspan></text></g>
<g transform="translate(696.87,892.90) scale(1.0,1.04)"><text font-family="'Liberation Sans'" font-size="15" stroke="#000" stroke-width="0.1"><tspan x="-44.5" y="-7.7" font-size="10.5">t</tspan><tspan x="-41.2" y="0">Bu</tspan><tspan x="-21.8" y="2.0" font-size="12.5">3</tspan><tspan x="-14.8" y="0">Si</tspan><tspan x="0" y="0" textLength="10.8" lengthAdjust="spacingAndGlyphs">O</tspan></text></g>
<line x1="710.00" y1="882.50" x2="747.00" y2="868.75" stroke="#000" stroke-width="1.6"/>
<polygon points="767.22,875.29 796.88,909.49 803.12,903.01 767.78,874.71" fill="#000"/>
<g transform="translate(798.29,918.70) scale(1.0,1.04)"><text font-family="'Liberation Sans'" font-size="15" stroke="#000" stroke-width="0.1"><tspan x="0" y="0">OSi</tspan><tspan x="26.6" y="-7.0" font-size="10">t</tspan><tspan x="30.0" y="0">Bu</tspan><tspan x="49.4" y="2.4" font-size="12.5">3</tspan></text></g>
</svg></body></html>
